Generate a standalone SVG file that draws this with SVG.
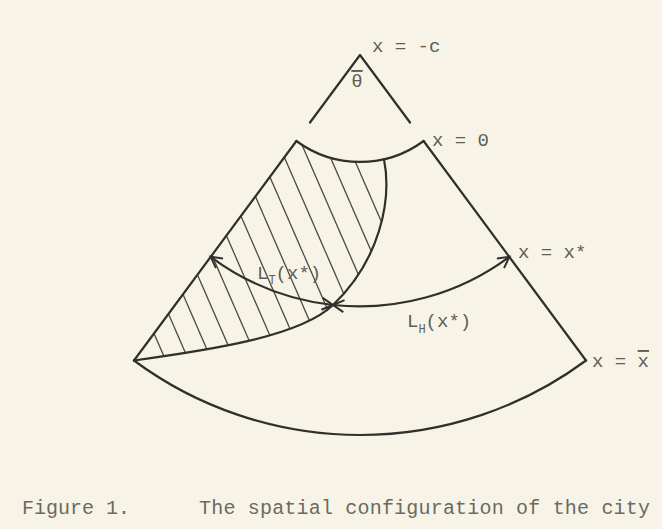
<svg xmlns="http://www.w3.org/2000/svg" width="662" height="529" viewBox="0 0 662 529">
<style>
.ln{fill:none;stroke:#2f2f2b;stroke-width:2.2;stroke-linecap:round;stroke-linejoin:round}
.h{stroke:#4a4a44;stroke-width:1.3}
.t{font-family:"Liberation Mono","DejaVu Sans Mono",monospace;fill:#5e5e56;font-size:19px}
.t tspan{fill:#5e5e56}
.cap{font-family:"Liberation Mono","DejaVu Sans Mono",monospace;fill:#6a6a62;font-size:20px}
</style>
<defs>
<marker id="ah" viewBox="-12 -7 14 14" markerWidth="14" markerHeight="14" refX="0" refY="0" orient="auto-start-reverse" markerUnits="userSpaceOnUse">
<path d="M-11,-6 L0,0 L-11,6" fill="none" stroke="#2f2f2b" stroke-width="2"/>
</marker>
<clipPath id="hc">
<path d="M134,360.5 L296.4,141 A107 107 0 0 0 384,159.3 C392,200 380,260 333,305 C300,336.6 210,350 134,360.5 Z"/>
</clipPath>
</defs>
<rect width="662" height="529" fill="#f7f4e7"/>
<g id="hatch" clip-path="url(#hc)">
<g class="h">
<line x1="65.5" y1="130" x2="169.9" y2="370"/>
<line x1="88.5" y1="130" x2="192.9" y2="370"/>
<line x1="111.5" y1="130" x2="215.9" y2="370"/>
<line x1="134.5" y1="130" x2="238.9" y2="370"/>
<line x1="157.5" y1="130" x2="261.9" y2="370"/>
<line x1="180.5" y1="130" x2="284.9" y2="370"/>
<line x1="203.5" y1="130" x2="307.9" y2="370"/>
<line x1="226.5" y1="130" x2="330.9" y2="370"/>
<line x1="249.5" y1="130" x2="353.9" y2="370"/>
<line x1="272.5" y1="130" x2="376.9" y2="370"/>
<line x1="295.5" y1="130" x2="399.9" y2="370"/>
<line x1="318.5" y1="130" x2="422.9" y2="370"/>
<line x1="341.5" y1="130" x2="445.9" y2="370"/>
</g>
</g>
<g id="connectors">
<path id="apex" class="ln" d="M310,122.5 L360,55 L410,122.5"/>
<path id="left-edge" class="ln" d="M296.4,141 L134,360.5"/>
<path id="right-edge" class="ln" d="M423.6,141 L586,360.5"/>
<path id="inner-arc" class="ln" d="M296.4,141 A107 107 0 0 0 423.6,141"/>
<path id="outer-arc" class="ln" d="M134,360.5 A380 380 0 0 0 586,360.5"/>
<path id="boundary" class="ln" d="M384,159.3 C392,200 380,260 333,305 C300,336.6 210,350 134,360.5"/>
<path id="LT" class="ln" d="M210.7,256.8 A251 251 0 0 0 333,305" marker-start="url(#ah)" marker-end="url(#ah)"/>
<path id="LH" class="ln" d="M333,305 A251 251 0 0 0 509.3,256.8" marker-start="url(#ah)" marker-end="url(#ah)"/>
</g>
<g id="labels">
<text class="t" x="372" y="52">x = -c</text>
<text class="t" x="357" y="87" font-size="13" text-anchor="middle" text-decoration="overline">θ</text>
<text class="t" x="432" y="146">x = 0</text>
<text class="t" x="518" y="258">x = x*</text>
<text class="t" x="592" y="367">x = <tspan text-decoration="overline">x</tspan></text>
<text class="t" x="257" y="279" font-size="17">L<tspan font-size="12" dy="5">T</tspan><tspan dy="-5">(x*)</tspan></text>
<text class="t" x="407" y="327" font-size="18">L<tspan font-size="12" dy="6">H</tspan><tspan dy="-6">(x*)</tspan></text>
</g>
<g id="caption">
<text class="cap" x="22" y="514">Figure 1.</text>
<text class="cap" x="199" y="514" textLength="451" lengthAdjust="spacing">The spatial configuration of the city</text>
</g>
</svg>
